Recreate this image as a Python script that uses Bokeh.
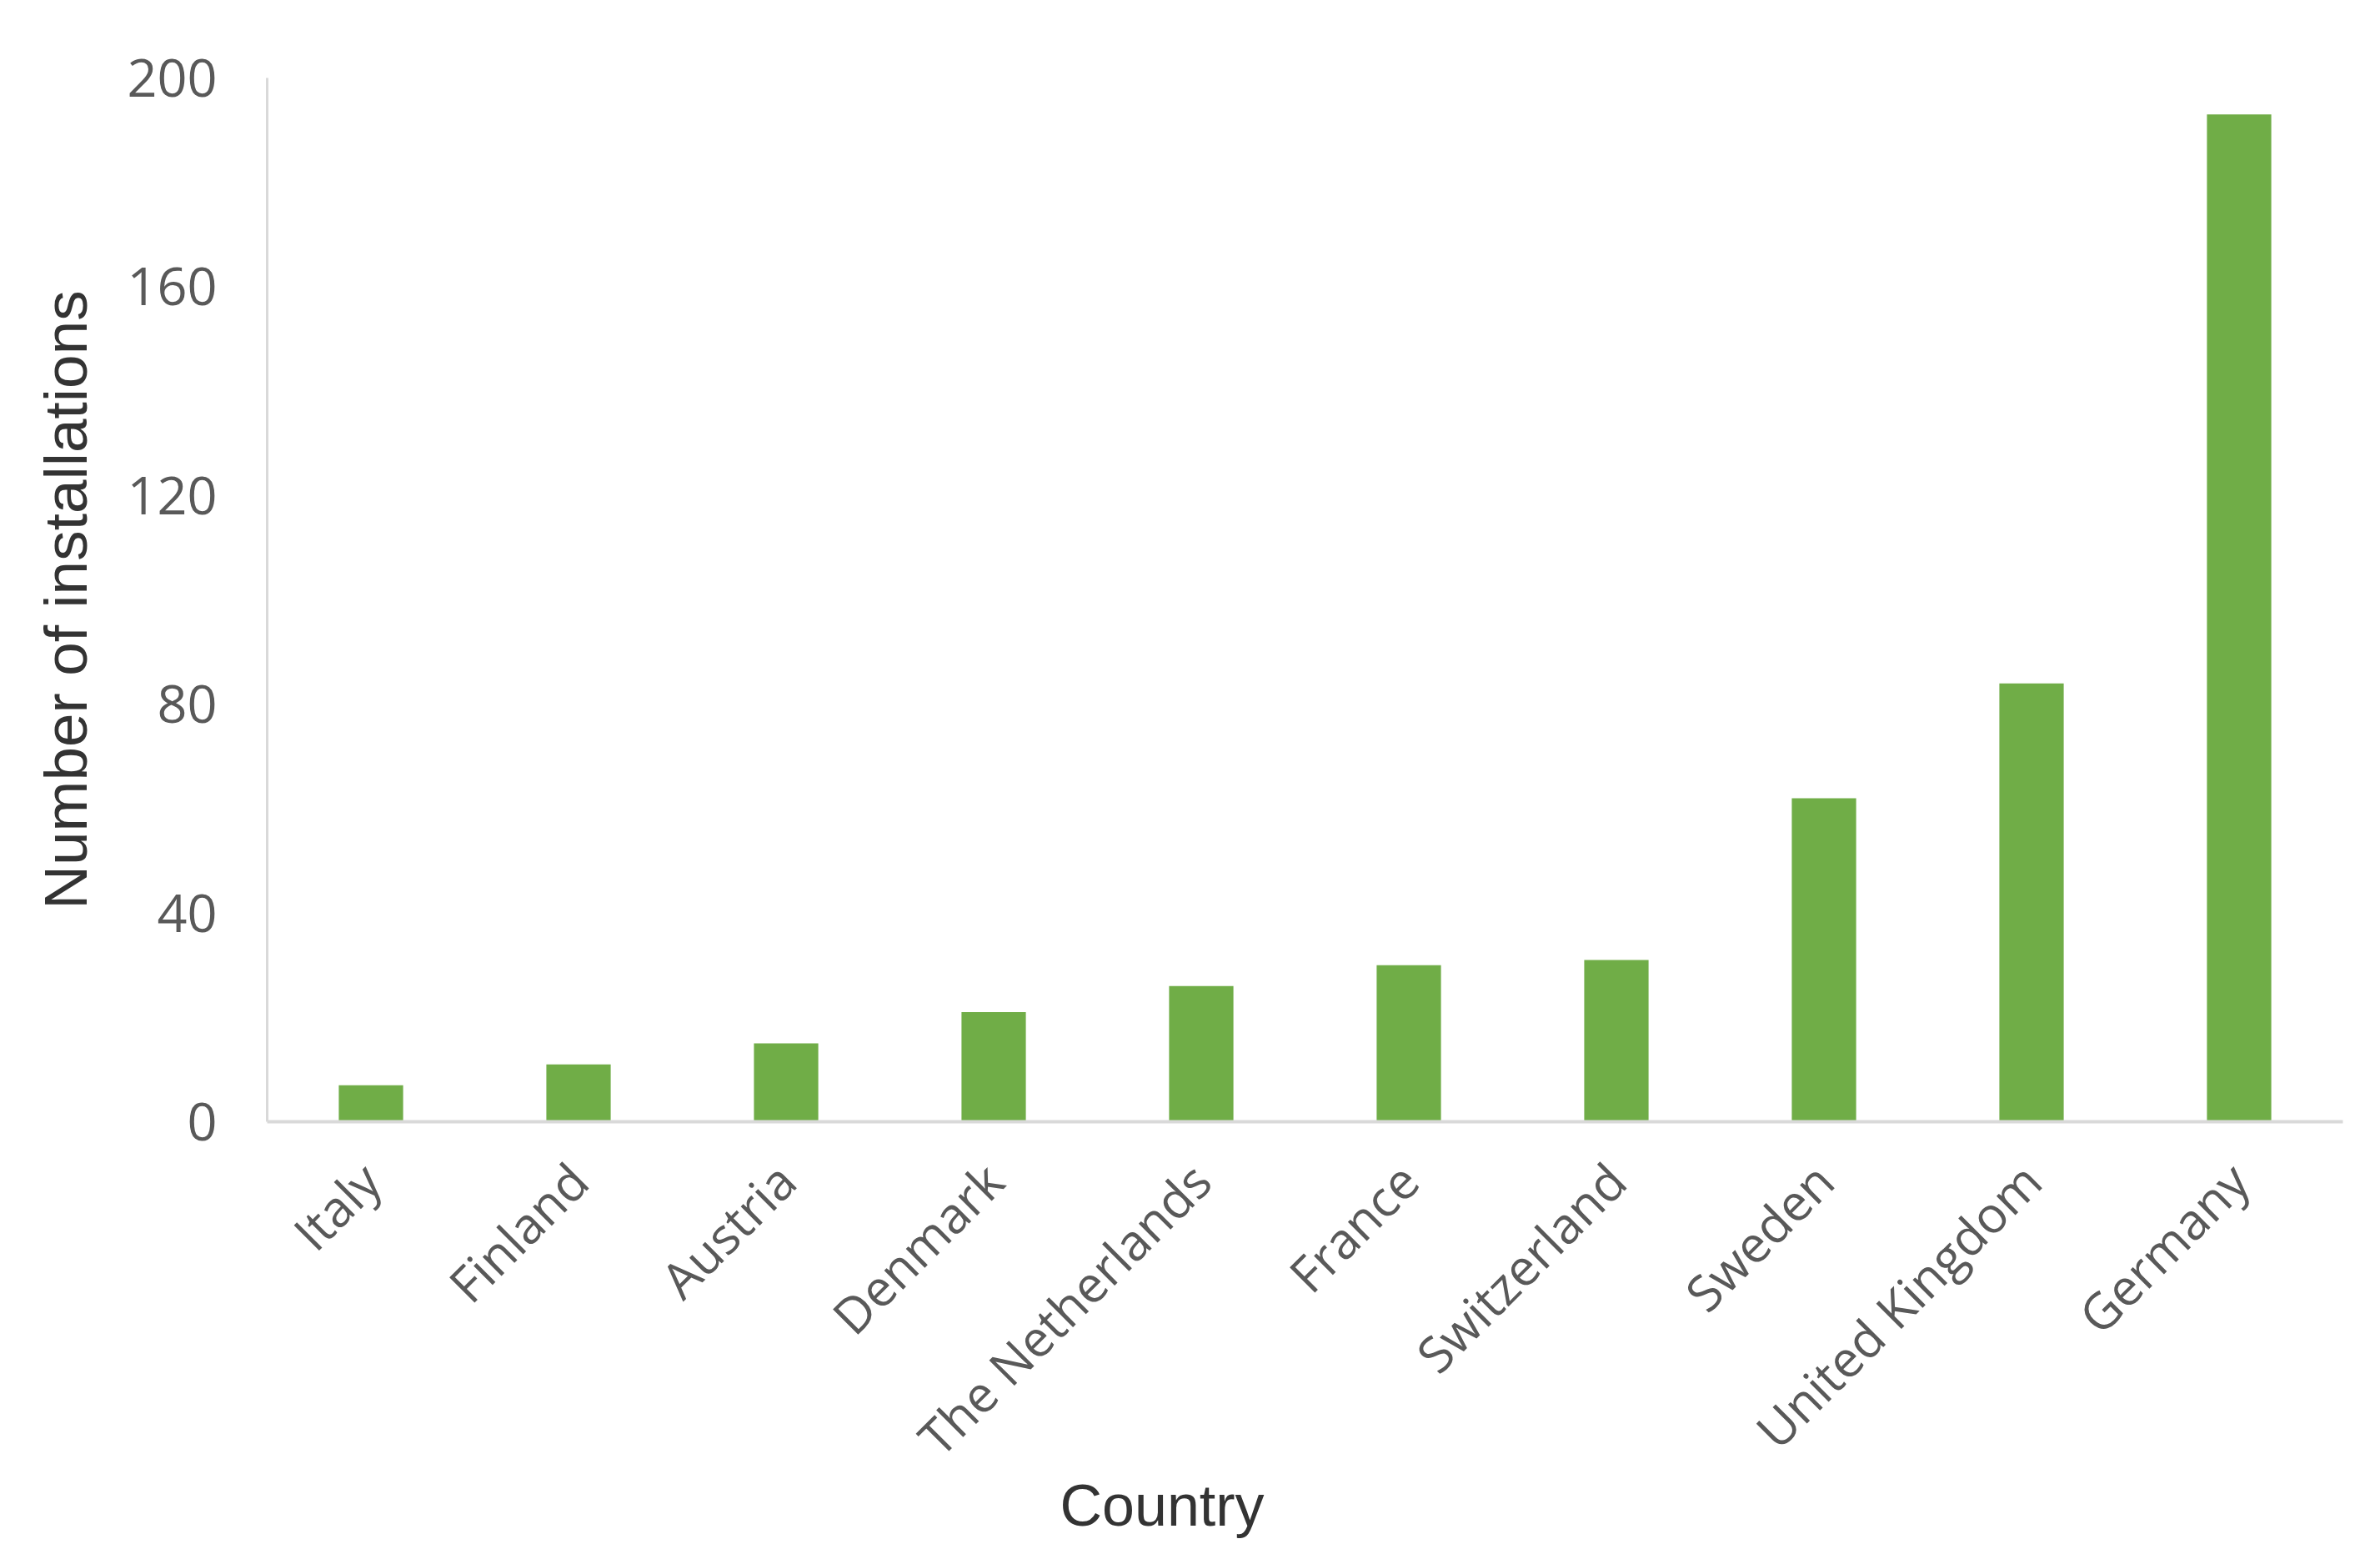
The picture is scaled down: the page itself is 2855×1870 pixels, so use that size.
import math
from bokeh.plotting import figure
from bokeh.models import Range1d, Title, FixedTicker
from bokeh.embed import file_html
from bokeh.resources import INLINE

countries = ["Italy", "Finland", "Austria", "Denmark", "The Netherlands",
             "France", "Switzerland", "Sweden", "United Kingdom", "Germany"]
installations = [7, 11, 15, 21, 26, 30, 31, 62, 84, 193]
y_ticks = [0, 40, 80, 120, 160, 200]

p = figure(x_range=countries, y_range=Range1d(0, 200),
           width=2839, height=1854, output_backend="svg", toolbar_location=None,
           min_border_left=320, min_border_right=29, min_border_top=93,
           min_border_bottom=509)
p.x_range.range_padding = 0
p.vbar(x=countries, top=installations, width=0.31, color="#70AD47", line_color=None)

p.xgrid.visible = False
p.ygrid.visible = False
p.outline_line_color = None
p.background_fill_color = "white"

# y axis
p.yaxis.ticker = FixedTicker(ticks=y_ticks)
p.yaxis.major_tick_line_color = None
p.yaxis.minor_tick_line_color = None
p.yaxis.axis_line_color = "#d9d9d9"
p.yaxis.axis_line_width = 3
p.yaxis.major_label_text_font = "Open Sans"
p.yaxis.major_label_text_font_size = "63px"
p.yaxis.major_label_text_color = "#595959"
p.yaxis.major_label_standoff = 54
p.yaxis.axis_label = "Number of installations"
p.yaxis.axis_label_text_font = "Liberation Sans"
p.yaxis.axis_label_text_font_size = "73px"
p.yaxis.axis_label_text_font_style = "normal"
p.yaxis.axis_label_text_color = "#333333"
p.yaxis.axis_label_standoff = 30

# x axis
p.xaxis.major_tick_line_color = None
p.xaxis.minor_tick_line_color = None
p.xaxis.axis_line_color = "#d9d9d9"
p.xaxis.axis_line_width = 4
p.xaxis.major_label_orientation = math.pi / 4
p.xaxis.major_label_text_font = "Open Sans"
p.xaxis.major_label_text_font_size = "60px"
p.xaxis.major_label_text_color = "#595959"
p.xaxis.major_label_standoff = 54

p.add_layout(Title(text="Country", align="left", offset=951,
                   text_font="Liberation Sans", text_font_size="70px",
                   text_font_style="normal", text_color="#333333", standoff=-62),
             "below")

open("out.html", "w").write(file_html(p, INLINE))
